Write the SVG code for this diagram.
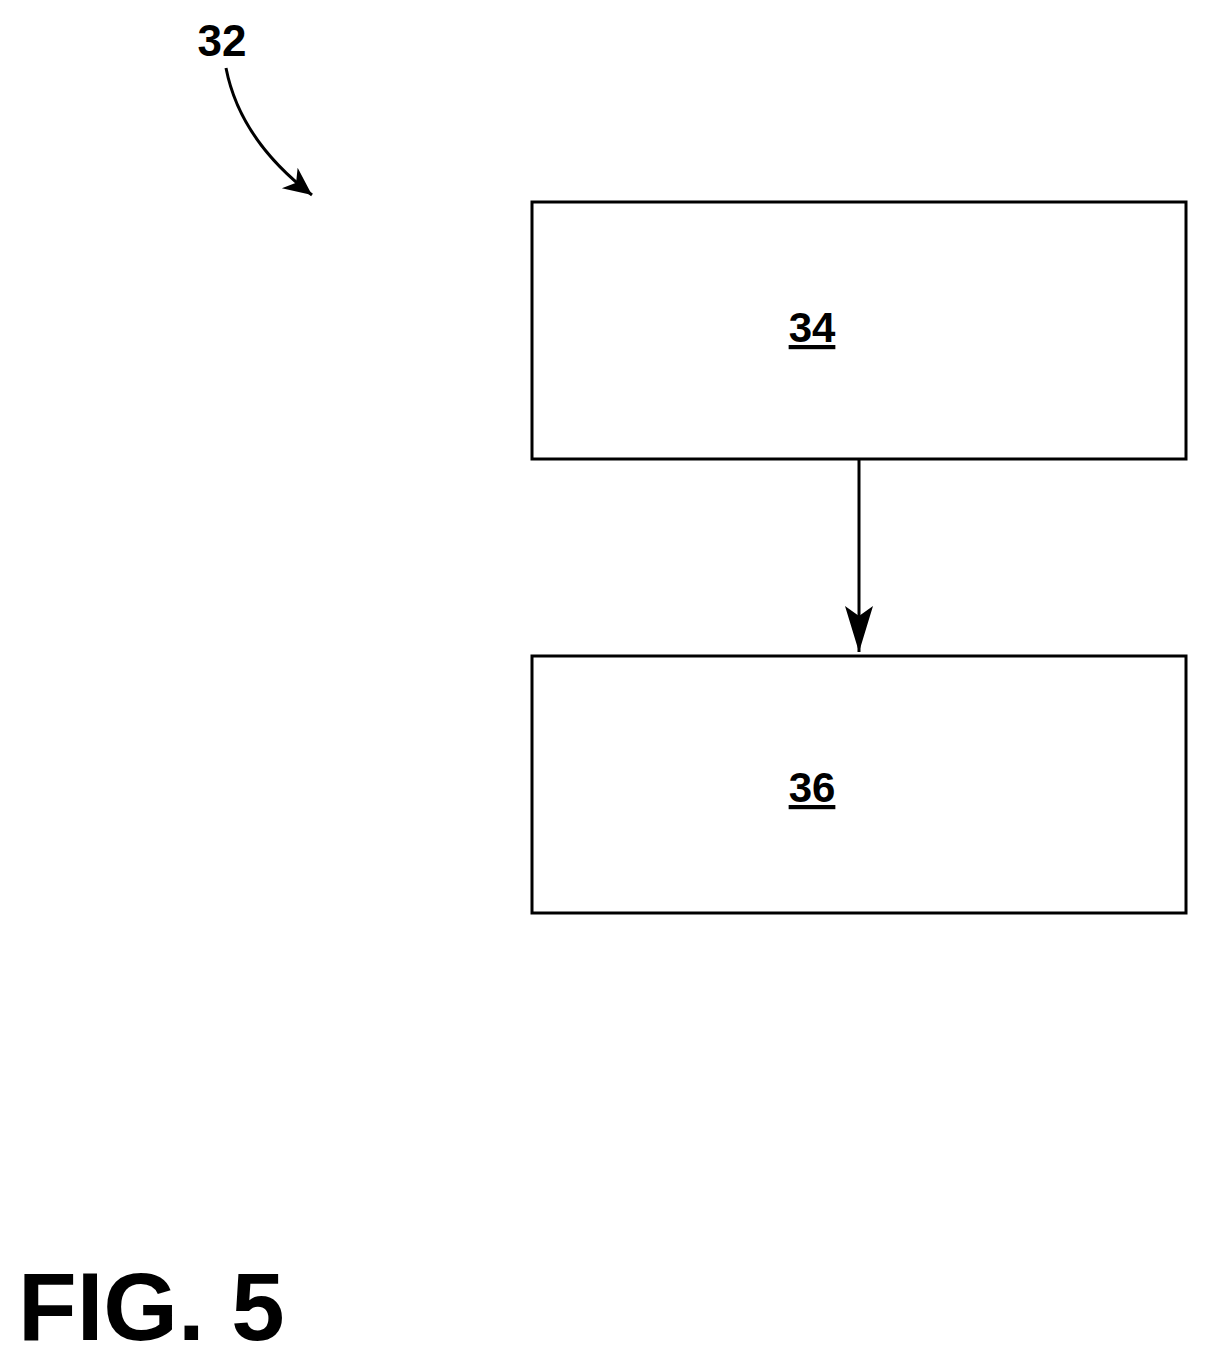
<svg xmlns="http://www.w3.org/2000/svg" width="1207" height="1363" viewBox="0 0 1207 1363">
<style>
.box{fill:#fff;stroke:#000;stroke-width:3}
.lbl{font-family:"Liberation Sans",Arial,sans-serif;font-size:42px;font-weight:bold;text-anchor:middle;text-decoration:underline}
.ln{fill:none;stroke:#000;stroke-width:3}
</style>
<defs>
<marker id="ah2" markerWidth="30" markerHeight="30" refX="28" refY="15" orient="auto" markerUnits="userSpaceOnUse" viewBox="0 0 30 30">
<path d="M0,2 L28,15 L0,28 L8,15 Z" fill="#000"/>
</marker>
<marker id="ah3" markerWidth="48" markerHeight="30" refX="46" refY="15" orient="auto" markerUnits="userSpaceOnUse" viewBox="0 0 48 30">
<path d="M0,1 L46,15 L0,29 L10,15 Z" fill="#000"/>
</marker>
</defs>
<rect width="1207" height="1363" fill="#fff"/>
<g id="ref32">
<text x="222" y="56" font-family="Liberation Sans,Arial,sans-serif" font-size="44" font-weight="bold" text-anchor="middle">32</text>
<path class="ln" d="M226,68 Q240,140 312,195" marker-end="url(#ah2)" stroke-width="2"/>
</g>
<g id="n34">
<rect class="box" x="532" y="202" width="654" height="257"/>
<text class="lbl" x="812" y="342">34</text>
</g>
<g id="n36">
<rect class="box" x="532" y="656" width="654" height="257"/>
<text class="lbl" x="812" y="802">36</text>
</g>
<g id="connectors">
<path class="ln" d="M859,459 L859,652" marker-end="url(#ah3)"/>
</g>
<text x="18" y="1340" font-family="Liberation Sans,Arial,sans-serif" font-size="96" font-weight="bold">FIG. 5</text>
</svg>
